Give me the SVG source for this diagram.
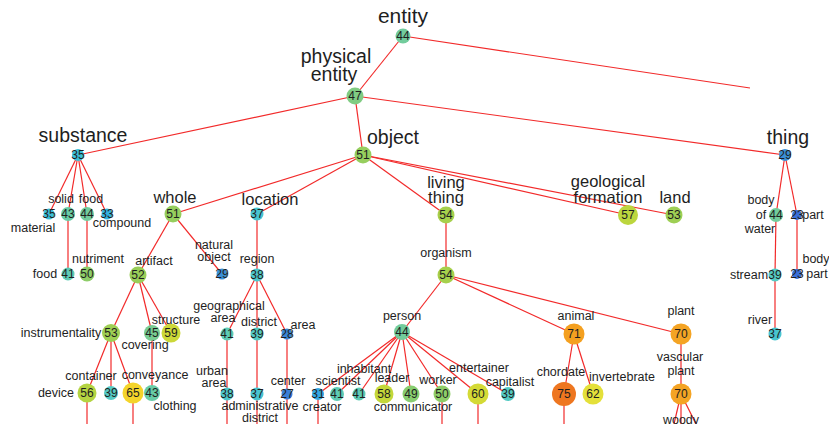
<svg xmlns="http://www.w3.org/2000/svg" width="829" height="424" viewBox="0 0 829 424">
<style>
text{font-family:"Liberation Sans",Arial,sans-serif;fill:#1e1e1e;text-anchor:middle}
.e line{stroke:#f22a2a;stroke-width:1.2}
.n{font-size:12px}
.s{font-size:12.5px}
.m{font-size:16.5px}
.l{font-size:19.5px}
.x{font-size:21px}
.c23{fill:#3a6fd8}.c27{fill:#3a7fd6}.c28{fill:#3a86d6}.c29{fill:#3a8fd6}.c31{fill:#35a8e2}.c33{fill:#33b3e0}
.c35{fill:#3cbfd8}.c37{fill:#48c5d0}.c38{fill:#4ec8cc}.c39{fill:#55cac4}.c41{fill:#5ecbb4}.c43{fill:#68cca6}
.c44{fill:#72cc9c}.c45{fill:#78cc92}.c47{fill:#80cc82}.c49{fill:#88cd70}.c50{fill:#8ecd68}.c51{fill:#96ce5e}
.c52{fill:#9ace58}.c53{fill:#9ecf54}.c54{fill:#a6d04c}.c56{fill:#b4d442}.c57{fill:#bcd63e}.c58{fill:#c4d73a}
.c59{fill:#ccd838}.c60{fill:#d4da36}.c62{fill:#e4e03a}.c65{fill:#f4d42a}.c70{fill:#f4a424}.c71{fill:#f4a020}.c75{fill:#ee7620}
</style>
<g id="connectors" class="e">
<line x1="403" y1="36" x2="750" y2="88"/>
<line x1="403" y1="36" x2="355" y2="96"/>
<line x1="355" y1="96" x2="78" y2="155"/>
<line x1="355" y1="96" x2="363" y2="155"/>
<line x1="355" y1="96" x2="785" y2="155"/>
<line x1="78" y1="155" x2="49" y2="214"/>
<line x1="78" y1="155" x2="68" y2="214"/>
<line x1="78" y1="155" x2="87" y2="214"/>
<line x1="78" y1="155" x2="107" y2="214"/>
<line x1="68" y1="214" x2="68" y2="274"/>
<line x1="87" y1="214" x2="87" y2="274"/>
<line x1="363" y1="155" x2="173" y2="214"/>
<line x1="363" y1="155" x2="257" y2="214"/>
<line x1="363" y1="155" x2="446" y2="215"/>
<line x1="363" y1="155" x2="628" y2="215"/>
<line x1="363" y1="155" x2="674" y2="215"/>
<line x1="173" y1="214" x2="138" y2="275"/>
<line x1="173" y1="214" x2="222" y2="274"/>
<line x1="257" y1="214" x2="257" y2="275"/>
<line x1="138" y1="275" x2="111" y2="333"/>
<line x1="138" y1="275" x2="152" y2="333"/>
<line x1="138" y1="275" x2="171" y2="333"/>
<line x1="111" y1="333" x2="87" y2="393"/>
<line x1="111" y1="333" x2="111" y2="393"/>
<line x1="111" y1="333" x2="133" y2="393"/>
<line x1="152" y1="333" x2="152" y2="393"/>
<line x1="257" y1="275" x2="227" y2="334"/>
<line x1="257" y1="275" x2="257" y2="334"/>
<line x1="257" y1="275" x2="287" y2="334"/>
<line x1="227" y1="334" x2="227" y2="394"/>
<line x1="257" y1="334" x2="257" y2="394"/>
<line x1="287" y1="334" x2="287" y2="394"/>
<line x1="446" y1="215" x2="446" y2="275"/>
<line x1="446" y1="275" x2="402" y2="332"/>
<line x1="446" y1="275" x2="574" y2="334"/>
<line x1="446" y1="275" x2="681" y2="334"/>
<line x1="402" y1="332" x2="318" y2="394"/>
<line x1="402" y1="332" x2="337" y2="394"/>
<line x1="402" y1="332" x2="359" y2="394"/>
<line x1="402" y1="332" x2="384" y2="394"/>
<line x1="402" y1="332" x2="411" y2="394"/>
<line x1="402" y1="332" x2="442" y2="394"/>
<line x1="402" y1="332" x2="478" y2="394"/>
<line x1="402" y1="332" x2="508" y2="394"/>
<line x1="574" y1="334" x2="564" y2="394"/>
<line x1="574" y1="334" x2="593" y2="394"/>
<line x1="681" y1="334" x2="681" y2="394"/>
<line x1="785" y1="155" x2="776" y2="215"/>
<line x1="785" y1="155" x2="797" y2="215"/>
<line x1="776" y1="215" x2="775" y2="275"/>
<line x1="775" y1="275" x2="775" y2="334"/>
<line x1="797" y1="215" x2="797" y2="274"/>
<line x1="87" y1="393" x2="87" y2="424"/>
<line x1="133" y1="393" x2="133" y2="424"/>
<line x1="227" y1="394" x2="227" y2="424"/>
<line x1="257" y1="394" x2="257" y2="424"/>
<line x1="287" y1="394" x2="287" y2="424"/>
<line x1="318" y1="394" x2="318" y2="424"/>
<line x1="442" y1="394" x2="442" y2="424"/>
<line x1="478" y1="394" x2="478" y2="424"/>
<line x1="564" y1="394" x2="564" y2="424"/>
<line x1="681" y1="394" x2="674" y2="424"/>
<line x1="681" y1="394" x2="681" y2="424"/>
<line x1="681" y1="394" x2="696" y2="424"/>
</g>
<g id="entity"><circle class="c44" cx="403" cy="36" r="7.5"/><text class="n" x="403" y="40">44</text><text class="x" x="403" y="23">entity</text></g>
<g id="physical-entity"><circle class="c47" cx="355" cy="96" r="8.5"/><text class="n" x="355" y="100">47</text><text class="l" x="336" y="63">physical</text><text class="l" x="334" y="81">entity</text></g>
<g id="substance"><circle class="c35" cx="78" cy="155" r="6"/><text class="n" x="78" y="159">35</text><text class="l" x="83" y="142">substance</text></g>
<g id="object"><circle class="c51" cx="363" cy="155" r="8.5"/><text class="n" x="363" y="159">51</text><text class="l" x="393" y="144">object</text></g>
<g id="thing"><circle class="c29" cx="785" cy="155" r="6"/><text class="n" x="785" y="159">29</text><text class="l" x="788" y="144">thing</text></g>
<g id="material"><circle class="c35" cx="49" cy="214" r="5.5"/><text class="n" x="49" y="218">35</text><text class="s" x="33" y="232">material</text></g>
<g id="solid"><circle class="c43" cx="68" cy="214" r="7"/><text class="n" x="68" y="218">43</text><text class="s" x="61" y="203">solid</text></g>
<g id="food-1"><circle class="c44" cx="87" cy="214" r="7"/><text class="n" x="87" y="218">44</text><text class="s" x="91" y="203">food</text></g>
<g id="compound"><circle class="c33" cx="107" cy="214" r="5.5"/><text class="n" x="107" y="218">33</text><text class="s" x="122" y="227">compound</text></g>
<g id="whole"><circle class="c51" cx="173" cy="214" r="8.5"/><text class="n" x="173" y="218">51</text><text class="m" x="175" y="203">whole</text></g>
<g id="location"><circle class="c37" cx="257" cy="214" r="6.5"/><text class="n" x="257" y="218">37</text><text class="m" x="270" y="205">location</text></g>
<g id="living-thing"><circle class="c54" cx="446" cy="215" r="8.5"/><text class="n" x="446" y="219">54</text><text class="m" x="446" y="188">living</text><text class="m" x="446" y="203">thing</text></g>
<g id="geological-formation"><circle class="c57" cx="628" cy="215" r="10"/><text class="n" x="628" y="219">57</text><text class="m" x="608" y="187">geological</text><text class="m" x="608" y="203">formation</text></g>
<g id="land"><circle class="c53" cx="674" cy="215" r="8.5"/><text class="n" x="674" y="219">53</text><text class="m" x="675" y="203">land</text></g>
<g id="body-of-water"><circle class="c44" cx="776" cy="215" r="7"/><text class="n" x="776" y="219">44</text><text class="s" x="761" y="204">body</text><text class="s" x="761" y="219">of</text><text class="s" x="760" y="233">water</text></g>
<g id="part"><circle class="c23" cx="797" cy="215" r="5"/><text class="n" x="797" y="219">23</text><text class="s" x="813" y="219">part</text></g>
<g id="food-2"><circle class="c41" cx="68" cy="274" r="6.5"/><text class="n" x="68" y="278">41</text><text class="s" x="45" y="278">food</text></g>
<g id="nutriment"><circle class="c50" cx="87" cy="274" r="7.5"/><text class="n" x="87" y="278">50</text><text class="s" x="98" y="263">nutriment</text></g>
<g id="artifact"><circle class="c52" cx="138" cy="275" r="8.5"/><text class="n" x="138" y="279">52</text><text class="s" x="154" y="265">artifact</text></g>
<g id="natural-object"><circle class="c29" cx="222" cy="274" r="5.5"/><text class="n" x="222" y="278">29</text><text class="s" x="214" y="249">natural</text><text class="s" x="214" y="261">object</text></g>
<g id="region"><circle class="c38" cx="257" cy="275" r="6.5"/><text class="n" x="257" y="279">38</text><text class="s" x="257" y="263">region</text></g>
<g id="organism"><circle class="c54" cx="446" cy="275" r="8.5"/><text class="n" x="446" y="279">54</text><text class="s" x="446" y="257">organism</text></g>
<g id="stream"><circle class="c39" cx="775" cy="275" r="6.5"/><text class="n" x="775" y="279">39</text><text class="s" x="749" y="279">stream</text></g>
<g id="body-part"><circle class="c23" cx="797" cy="274" r="5"/><text class="n" x="797" y="278">23</text><text class="s" x="816" y="263">body</text><text class="s" x="817" y="278">part</text></g>
<g id="instrumentality"><circle class="c53" cx="111" cy="333" r="9"/><text class="n" x="111" y="337">53</text><text class="s" x="61" y="337">instrumentality</text></g>
<g id="covering"><circle class="c45" cx="152" cy="333" r="8"/><text class="n" x="152" y="337">45</text><text class="s" x="145" y="349">covering</text></g>
<g id="structure"><circle class="c59" cx="171" cy="333" r="9.5"/><text class="n" x="171" y="337">59</text><text class="s" x="176" y="324">structure</text></g>
<g id="geographical-area"><circle class="c41" cx="227" cy="334" r="6.5"/><text class="n" x="227" y="338">41</text><text class="s" x="229" y="310">geographical</text><text class="s" x="223" y="322">area</text></g>
<g id="district"><circle class="c39" cx="257" cy="334" r="6.5"/><text class="n" x="257" y="338">39</text><text class="s" x="259" y="326">district</text></g>
<g id="area"><circle class="c28" cx="287" cy="334" r="5.5"/><text class="n" x="287" y="338">28</text><text class="s" x="303" y="329">area</text></g>
<g id="person"><circle class="c44" cx="402" cy="332" r="8"/><text class="n" x="402" y="336">44</text><text class="s" x="402" y="320">person</text></g>
<g id="animal"><circle class="c71" cx="574" cy="334" r="10.5"/><text class="n" x="574" y="338">71</text><text class="s" x="576" y="320">animal</text></g>
<g id="plant"><circle class="c70" cx="681" cy="334" r="10.5"/><text class="n" x="681" y="338">70</text><text class="s" x="681" y="315">plant</text></g>
<g id="river"><circle class="c37" cx="775" cy="334" r="6.5"/><text class="n" x="775" y="338">37</text><text class="s" x="760" y="324">river</text></g>
<g id="device"><circle class="c56" cx="87" cy="393" r="9.5"/><text class="n" x="87" y="397">56</text><text class="s" x="56" y="397">device</text></g>
<g id="container"><circle class="c39" cx="111" cy="393" r="7"/><text class="n" x="111" y="397">39</text><text class="s" x="91" y="380">container</text></g>
<g id="conveyance"><circle class="c65" cx="133" cy="393" r="10.5"/><text class="n" x="133" y="397">65</text><text class="s" x="155" y="379">conveyance</text></g>
<g id="clothing"><circle class="c43" cx="152" cy="393" r="8"/><text class="n" x="152" y="397">43</text><text class="s" x="175" y="410">clothing</text></g>
<g id="urban-area"><circle class="c38" cx="227" cy="394" r="6.5"/><text class="n" x="227" y="398">38</text><text class="s" x="212" y="375">urban</text><text class="s" x="214" y="387">area</text></g>
<g id="administrative-district"><circle class="c37" cx="257" cy="394" r="6.5"/><text class="n" x="257" y="398">37</text><text class="s" x="260" y="410">administrative</text><text class="s" x="260" y="422">district</text></g>
<g id="center"><circle class="c27" cx="287" cy="394" r="5.5"/><text class="n" x="287" y="398">27</text><text class="s" x="288" y="385">center</text></g>
<g id="creator"><circle class="c31" cx="318" cy="394" r="6"/><text class="n" x="318" y="398">31</text><text class="s" x="322" y="411">creator</text></g>
<g id="scientist"><circle class="c41" cx="337" cy="394" r="7"/><text class="n" x="337" y="398">41</text><text class="s" x="338" y="385">scientist</text></g>
<g id="inhabitant"><circle class="c41" cx="359" cy="394" r="6.5"/><text class="n" x="359" y="398">41</text><text class="s" x="364" y="373">inhabitant</text></g>
<g id="leader"><circle class="c58" cx="384" cy="394" r="9.5"/><text class="n" x="384" y="398">58</text><text class="s" x="392" y="382">leader</text></g>
<g id="communicator"><circle class="c49" cx="411" cy="394" r="8.5"/><text class="n" x="411" y="398">49</text><text class="s" x="413" y="411">communicator</text></g>
<g id="worker"><circle class="c50" cx="442" cy="394" r="8.5"/><text class="n" x="442" y="398">50</text><text class="s" x="438" y="384">worker</text></g>
<g id="entertainer"><circle class="c60" cx="478" cy="394" r="10.5"/><text class="n" x="478" y="398">60</text><text class="s" x="479" y="372">entertainer</text></g>
<g id="capitalist"><circle class="c39" cx="508" cy="394" r="7"/><text class="n" x="508" y="398">39</text><text class="s" x="510" y="386">capitalist</text></g>
<g id="chordate"><circle class="c75" cx="564" cy="394" r="12"/><text class="n" x="564" y="398">75</text><text class="s" x="561" y="376">chordate</text></g>
<g id="invertebrate"><circle class="c62" cx="593" cy="394" r="10.5"/><text class="n" x="593" y="398">62</text><text class="s" x="622" y="381">invertebrate</text></g>
<g id="vascular-plant"><circle class="c70" cx="681" cy="394" r="10.5"/><text class="n" x="681" y="398">70</text><text class="s" x="680" y="361">vascular</text><text class="s" x="681" y="375">plant</text><text class="s" x="681" y="424">woody</text></g>
</svg>
